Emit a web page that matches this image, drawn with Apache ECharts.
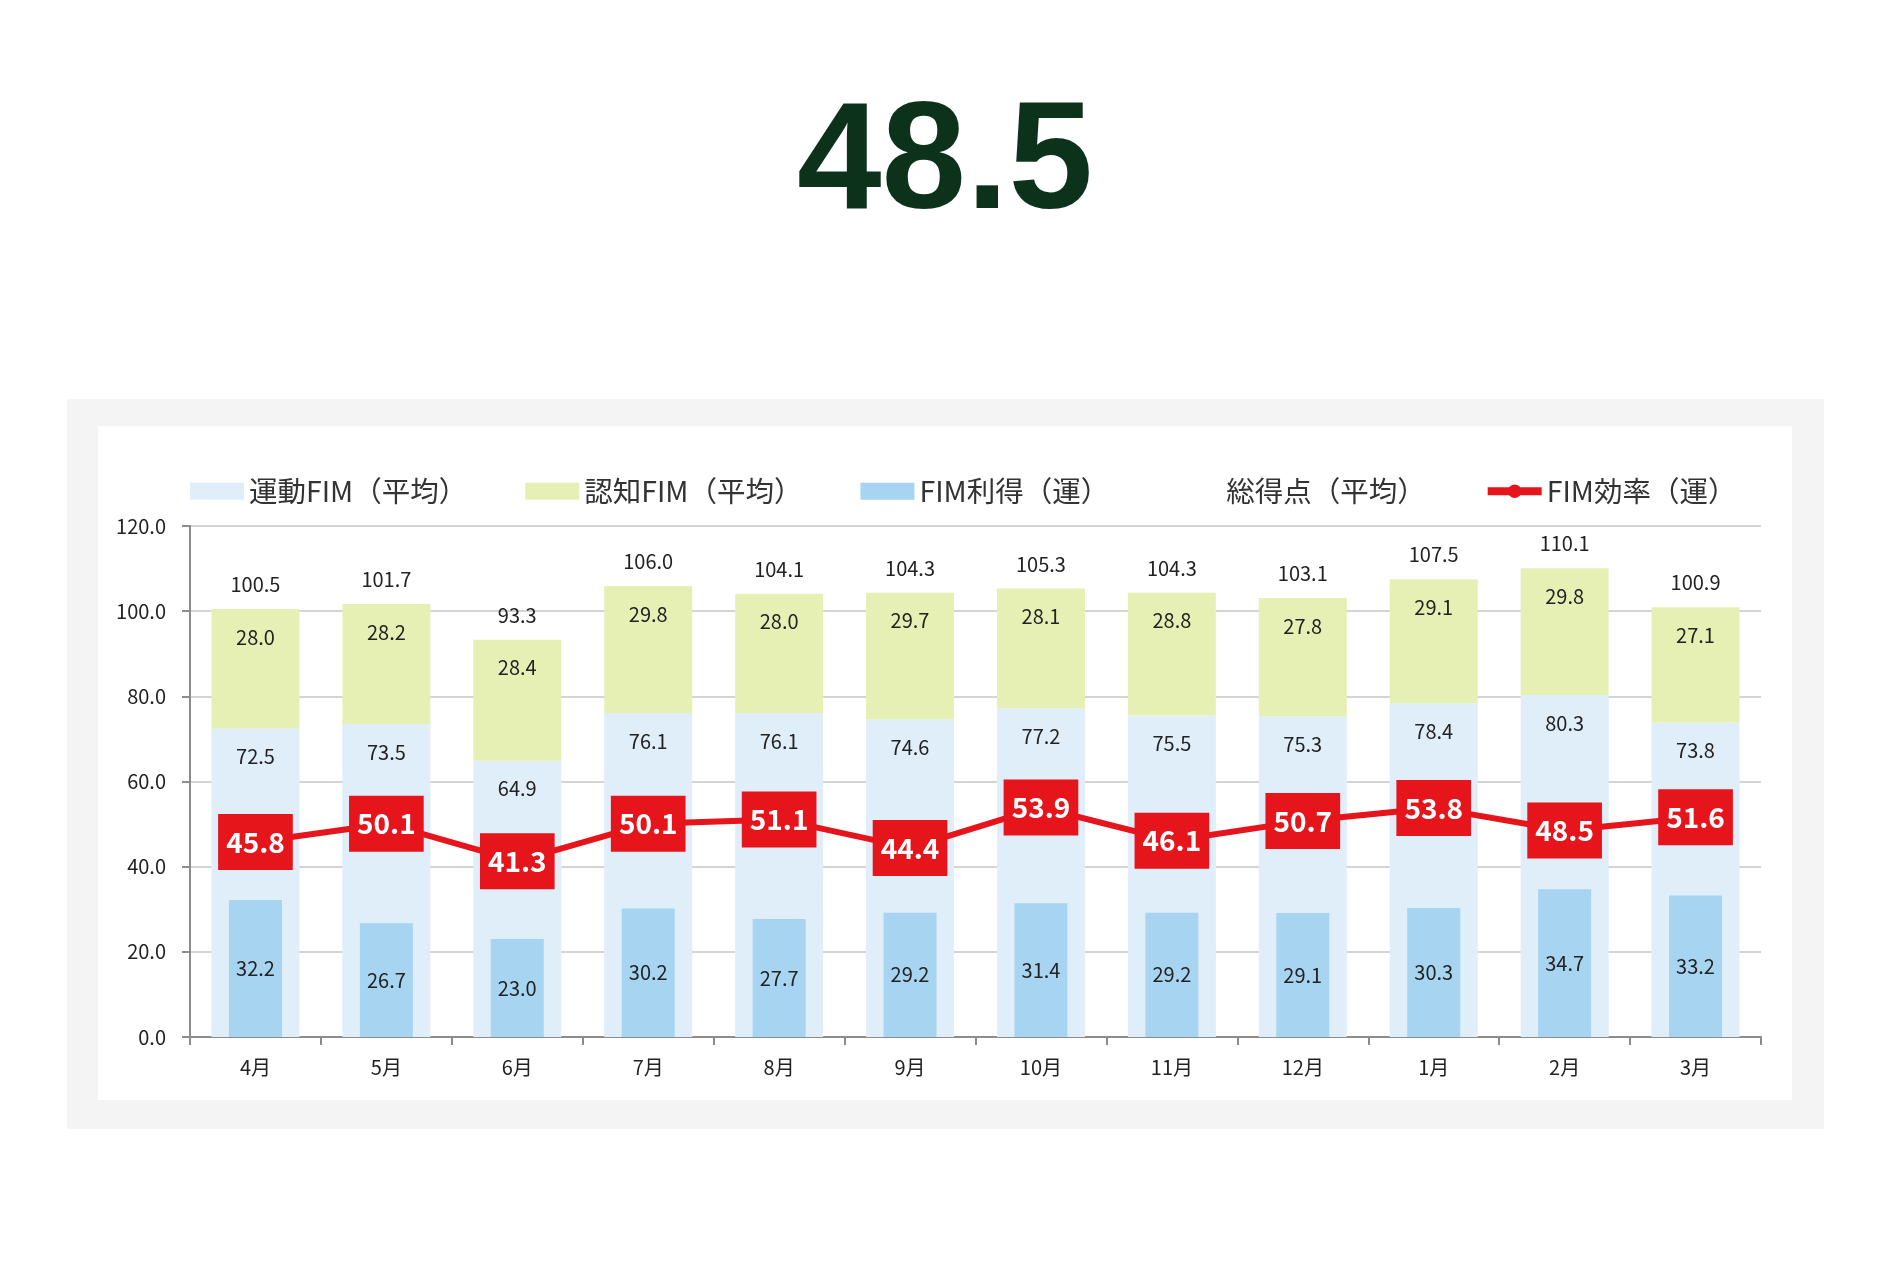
<!DOCTYPE html>
<html>
<head>
<meta charset="utf-8">
<script src="https://cdn.jsdelivr.net/npm/echarts@6/dist/echarts.min.js"></script>
<style>
  html, body { margin: 0; padding: 0; background: #fff; }
  #chart { width: 1890px; height: 1265px; }
</style>
</head>
<body>
<div id="chart"></div>
<script>
// monthly values
const months = ["4月", "5月", "6月", "7月", "8月", "9月", "10月", "11月", "12月", "1月", "2月", "3月"];
const motorAvg = [72.5, 73.5, 64.9, 76.1, 76.1, 74.6, 77.2, 75.5, 75.3, 78.4, 80.3, 73.8];
const cognitiveAvg = [28.0, 28.2, 28.4, 29.8, 28.0, 29.7, 28.1, 28.8, 27.8, 29.1, 29.8, 27.1];
const totalAvg = [100.5, 101.7, 93.3, 106.0, 104.1, 104.3, 105.3, 104.3, 103.1, 107.5, 110.1, 100.9];
const fimGain = [32.2, 26.7, 23.0, 30.2, 27.7, 29.2, 31.4, 29.2, 29.1, 30.3, 34.7, 33.2];
const fimEfficiency = [45.8, 50.1, 41.3, 50.1, 51.1, 44.4, 53.9, 46.1, 50.7, 53.8, 48.5, 51.6];
const headline = "48.5";

const FONT = '"Noto Sans CJK JP", "Noto Sans", sans-serif';
const RED = "#e6141b";
const fmt = (p) => p.value.toFixed(1);

const chart = echarts.init(document.getElementById("chart"));

const labelInTop = {
  show: true,
  position: "insideTop",
  distance: 18,
  formatter: fmt,
  color: "#222",
  fontSize: 20,
  fontFamily: FONT,
};

const option = {
  backgroundColor: "#fff",
  animation: false,
  graphic: [
    { type: "rect", z: -10, shape: { x: 67, y: 399, width: 1757, height: 730 }, style: { fill: "#f4f4f4" } },
    { type: "rect", z: -9, shape: { x: 98, y: 426, width: 1694, height: 674 }, style: { fill: "#ffffff" } },
    {
      type: "text",
      x: 945,
      y: 166,
      style: {
        text: headline,
        fill: "#0c321b",
        font: 'bold 152px "Liberation Sans", Arial, sans-serif',
        textAlign: "center",
        textVerticalAlign: "middle",
      },
    },
  ],
  legend: {
    left: 185,
    top: 472,
    itemWidth: 54,
    itemHeight: 17,
    itemGap: 58,
    textStyle: { fontSize: 28.5, color: "#333", fontFamily: FONT },
    data: [
      { name: "運動FIM（平均）", icon: "rect" },
      { name: "認知FIM（平均）", icon: "rect" },
      { name: "FIM利得（運）", icon: "rect" },
      { name: "総得点（平均）" },
      { name: "FIM効率（運）", lineStyle: { width: 8 } },
    ],
  },
  grid: { left: 190, right: 129, top: 526, bottom: 228 },
  xAxis: [
    {
      type: "category",
      data: months,
      axisLine: { lineStyle: { color: "#8c8c8c", width: 2 } },
      axisTick: { show: true, length: 8, lineStyle: { color: "#8c8c8c", width: 2 } },
      axisLabel: { fontSize: 20, color: "#222", margin: 20, fontFamily: FONT },
    },
    { type: "category", data: months, show: false },
  ],
  yAxis: {
    type: "value",
    min: 0,
    max: 120,
    interval: 20,
    axisLine: { show: true, lineStyle: { color: "#8c8c8c", width: 2 } },
    axisTick: { show: true, length: 8, lineStyle: { color: "#8c8c8c", width: 2 } },
    axisLabel: { fontSize: 20, color: "#222", margin: 24, fontFamily: FONT, formatter: (v) => v.toFixed(1) },
    splitLine: { lineStyle: { color: "#c6c6c6", width: 1.5 } },
  },
  series: [
    {
      name: "運動FIM（平均）",
      type: "bar",
      stack: "fim",
      barWidth: 88,
      data: motorAvg,
      itemStyle: { color: "#dfeef9" },
      label: labelInTop,
    },
    {
      name: "認知FIM（平均）",
      type: "bar",
      stack: "fim",
      barWidth: 88,
      data: cognitiveAvg,
      itemStyle: { color: "#e7f0b4" },
      label: labelInTop,
    },
    {
      name: "FIM利得（運）",
      type: "bar",
      xAxisIndex: 1,
      barWidth: 53,
      data: fimGain,
      itemStyle: { color: "#a7d4f1" },
      label: { show: true, position: "inside", formatter: fmt, color: "#222", fontSize: 20, fontFamily: FONT },
    },
    {
      name: "総得点（平均）",
      type: "line",
      data: totalAvg,
      symbol: "circle",
      symbolSize: 1,
      itemStyle: { color: "transparent" },
      lineStyle: { color: "transparent", width: 0 },
      label: { show: true, position: "top", distance: 14, formatter: fmt, color: "#222", fontSize: 20, fontFamily: FONT },
    },
    {
      name: "FIM効率（運）",
      type: "line",
      data: fimEfficiency,
      symbol: "circle",
      symbolSize: 14,
      itemStyle: { color: RED },
      lineStyle: { color: RED, width: 6 },
      z: 5,
      label: {
        show: true,
        position: "inside",
        formatter: fmt,
        color: "#fff",
        fontSize: 28,
        fontWeight: "bold",
        fontFamily: FONT,
        backgroundColor: RED,
        padding: [12, 8],
        lineHeight: 32,
      },
    },
  ],
};

chart.setOption(option);
</script>
</body>
</html>
